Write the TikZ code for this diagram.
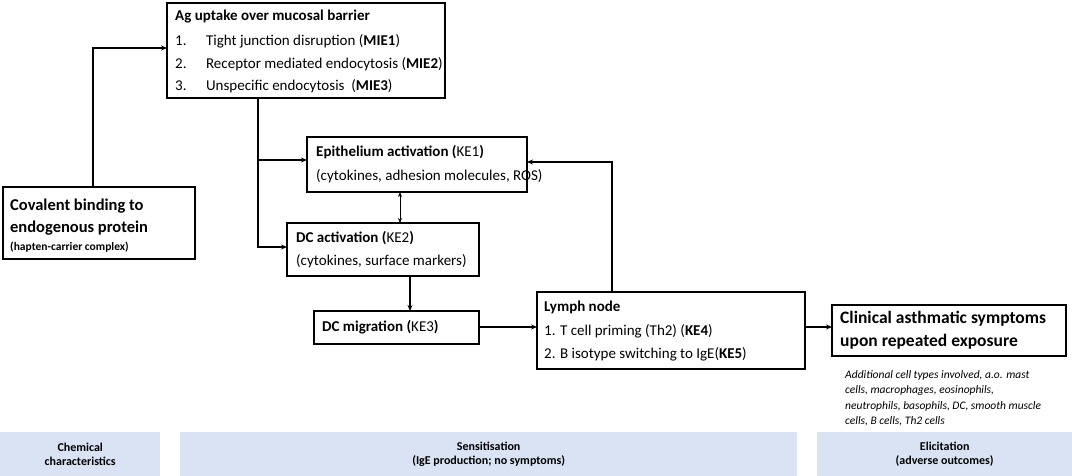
\documentclass[tikz,border=0pt]{standalone}
\usepackage{fontspec}
\setmainfont{Carlito}
\usetikzlibrary{arrows.meta, positioning, calc}
\definecolor{barblue}{RGB}{218,227,243}

\begin{document}
\begin{tikzpicture}[x=1pt, y=-1pt,
    box/.style={draw, line width=1.1pt, inner sep=0pt},
    txt/.style={anchor=west, font=\fontsize{15}{18}\selectfont, inner sep=0pt},
    bar/.style={fill=barblue, draw=none, align=center, font=\fontsize{12}{14.5}\selectfont\bfseries},
    link/.style={line width=1.1pt, -{Stealth[length=6pt,width=5pt]}}]
    \useasboundingbox (0,0) rectangle (1072,476);

    % Boxes
    \draw[box] (167,3) rectangle (445,98);
    \coordinate (ag) at (167,48);
    \node[txt, font=\fontsize{15}{18}\selectfont\bfseries] at (175,17) {Ag uptake over mucosal barrier};
    \node[txt] at (175,41) {1.\hspace{1.3em}Tight junction disruption (\textbf{MIE1})};
    \node[txt] at (175,64) {2.\hspace{1.3em}Receptor mediated endocytosis (\textbf{MIE2})};
    \node[txt] at (175,86) {3.\hspace{1.3em}Unspecific endocytosis\ \ (\textbf{MIE3})};

    \draw[box] (3,187) rectangle (195,259);
    \coordinate (cov) at (93,187);
    \node[txt, font=\fontsize{16.5}{19}\selectfont\bfseries] at (10,206) {Covalent binding to};
    \node[txt, font=\fontsize{16.5}{19}\selectfont\bfseries] at (10,228) {endogenous protein};
    \node[txt, font=\fontsize{11.5}{13}\selectfont\bfseries] at (10,247) {(hapten-carrier complex)};

    \draw[box] (307,137) rectangle (527,192);
    \node[txt, font=\fontsize{15}{18}\selectfont\bfseries] at (316,152) {Epithelium activation (\textmd{KE1})};
    \node[txt] at (316,176) {(cytokines, adhesion molecules, ROS)};

    \draw[box] (287,223) rectangle (479,276);
    \node[txt, font=\fontsize{15}{18}\selectfont\bfseries] at (296,238) {DC activation (\textmd{KE2})};
    \node[txt] at (296,261) {(cytokines, surface markers)};

    \draw[box] (314,311) rectangle (479,344);
    \node[txt, font=\fontsize{15}{18}\selectfont\bfseries] at (322,327) {DC migration (\textmd{KE3})};

    \draw[box] (537,292) rectangle (805,369);
    \node[txt, font=\fontsize{15}{18}\selectfont\bfseries] at (544,307) {Lymph node};
    \node[txt] at (544,331) {1. T cell priming (Th2) (\textbf{KE4})};
    \node[txt] at (544,354) {2. B isotype switching to IgE(\textbf{KE5})};

    \draw[box] (832,305) rectangle (1066,356);
    \node[txt, font=\fontsize{17.5}{20}\selectfont\bfseries] at (840,319) {Clinical asthmatic symptoms};
    \node[txt, font=\fontsize{17.5}{20}\selectfont\bfseries] at (840,342) {upon repeated exposure};
    \node[anchor=north west, inner sep=0pt, align=left, font=\fontsize{11.5}{15.5}\selectfont\itshape] at (845,370)
        {Additional cell types involved, a.o. mast\\cells, macrophages, eosinophils,\\neutrophils, basophils, DC, smooth muscle\\cells, B cells, Th2 cells};

    % Connectors
    \draw[link] (cov) |- (ag);
    \draw[link] (258,98) |- (307,160);
    \draw[link] (258,160) |- (287,247);
    \draw[line width=1pt, {Stealth[length=5pt,width=4pt]}-{Stealth[length=5pt,width=4pt]}] (400,192) -- (400,223);
    \draw[link] (410,276) -- (410,311);
    \draw[link] (479,327) -- (537,327);
    \draw[link] (612,292) |- (527,162);
    \draw[link] (805,327) -- (832,327);

    % Phases
    \node[bar, minimum width=160pt, minimum height=44pt, anchor=north west] at (0,432) {Chemical\\characteristics};
    \node[bar, minimum width=617pt, minimum height=44pt, anchor=north west] at (180,432) {Sensitisation\\(IgE production; no symptoms)};
    \node[bar, minimum width=255pt, minimum height=44pt, anchor=north west] at (817,432) {Elicitation\\(adverse outcomes)};
\end{tikzpicture}
\end{document}
